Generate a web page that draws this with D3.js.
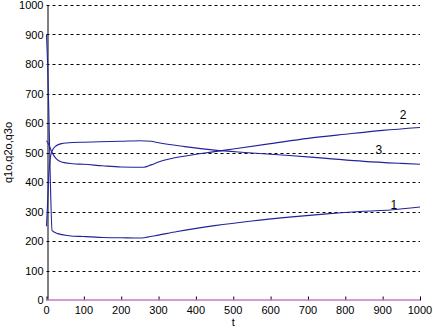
<!DOCTYPE html>
<html><head><meta charset="utf-8">
<script src="https://cdn.jsdelivr.net/npm/d3@7"></script>
<style>body{margin:0;background:#fff}svg{display:block}text{font-family:Arial,"Liberation Sans",sans-serif}</style>
</head><body>
<script>
const xTicks = [0,100,200,300,400,500,600,700,800,900,1000];
const yTicks = [0,100,200,300,400,500,600,700,800,900,1000];
const t1 = [0,3,6,10,15,30,60,100,150,200,250,270,300,350,450,550,650,750,850,920,1000];
const q1 = [900,800,650,420,235,225,218,215,212,211,210,213,220,232,252,268,281,292,301,305,315];
const t2 = [0,5,10,15,25,40,70,100,150,200,260,280,300,380,450,500,600,700,800,900,1000];
const q2 = [540,530,515,500,480,468,462,460,455,451,450,458,468,490,503,512,530,548,562,575,585];
const t3 = [0,3,6,10,15,25,40,70,100,200,250,280,300,370,450,530,650,750,850,950,1000];
const q3 = [250,330,420,480,505,522,530,534,535,538,540,538,533,520,508,500,490,480,470,463,460];
const t4 = [0,1000];
const q4 = [0,0];
const labels = [{text:"1", t:930, v:310},{text:"2", t:955, v:613},{text:"3", t:890, v:495}];

const W=433,H=331;
const svg=d3.select("body").append("svg").attr("width",W).attr("height",H);
const x=d3.scaleLinear().domain([0,1000]).range([46.5,420]);
const y=d3.scaleLinear().domain([0,1000]).range([300,5]);

// grid
svg.append("g").selectAll("line").data(yTicks.filter(d=>d>0)).join("line")
  .attr("x1",x(0)).attr("x2",x(1000)).attr("y1",d=>Math.round(y(d))+0.5).attr("y2",d=>Math.round(y(d))+0.5)
  .attr("stroke","#000").attr("stroke-width",1).attr("stroke-dasharray","3,3");

const yAxis=svg.append("g").attr("transform",`translate(${Math.round(x(0))+0.5},0)`)
  .call(d3.axisLeft(y).tickValues(yTicks).tickSize(0).tickPadding(4).tickFormat(d3.format("d")));
yAxis.select(".domain").attr("stroke","#000");
yAxis.selectAll("text").attr("font-size",11).attr("fill","#000");

const xAxis=svg.append("g").attr("transform",`translate(0,${Math.round(y(0))+0.5})`)
  .call(d3.axisTop(x).tickValues(xTicks).tickSize(4).tickFormat(""));
xAxis.select(".domain").remove();
xAxis.selectAll("line").attr("stroke","#000");
svg.append("g").selectAll("text").data(xTicks).join("text")
  .attr("x",d=>x(d)).attr("y",y(0)+14).attr("text-anchor","middle").attr("font-size",11).text(d=>d);

const line=d3.line().x(d=>x(d[0])).y(d=>y(d[1]));
const series=[[t1,q1],[t2,q2],[t3,q3]];
series.forEach(([t,q])=>{
  svg.append("path").datum(t.map((v,i)=>[v,q[i]])).attr("d",line.curve(d3.curveMonotoneX))
    .attr("fill","none").attr("stroke","#22229a").attr("stroke-width",1.1);
});
svg.append("path").datum(t4.map((v,i)=>[v,q4[i]])).attr("d",d3.line().x(d=>x(d[0])).y(d=>y(d[1])))
  .attr("fill","none").attr("stroke","#c478c8").attr("stroke-width",1.5);

svg.append("g").selectAll("text").data(labels).join("text")
  .attr("x",d=>x(d.t)).attr("y",d=>y(d.v)).attr("text-anchor","middle").attr("font-size",12).text(d=>d.text);

svg.append("text").attr("x",x(500)).attr("y",326).attr("text-anchor","middle").attr("font-size",11).text("t");
svg.append("text").attr("transform",`translate(12,${y(500)}) rotate(-90)`).attr("text-anchor","middle").attr("font-size",11).text("q1o,q2o,q3o");
</script>
</body></html>
